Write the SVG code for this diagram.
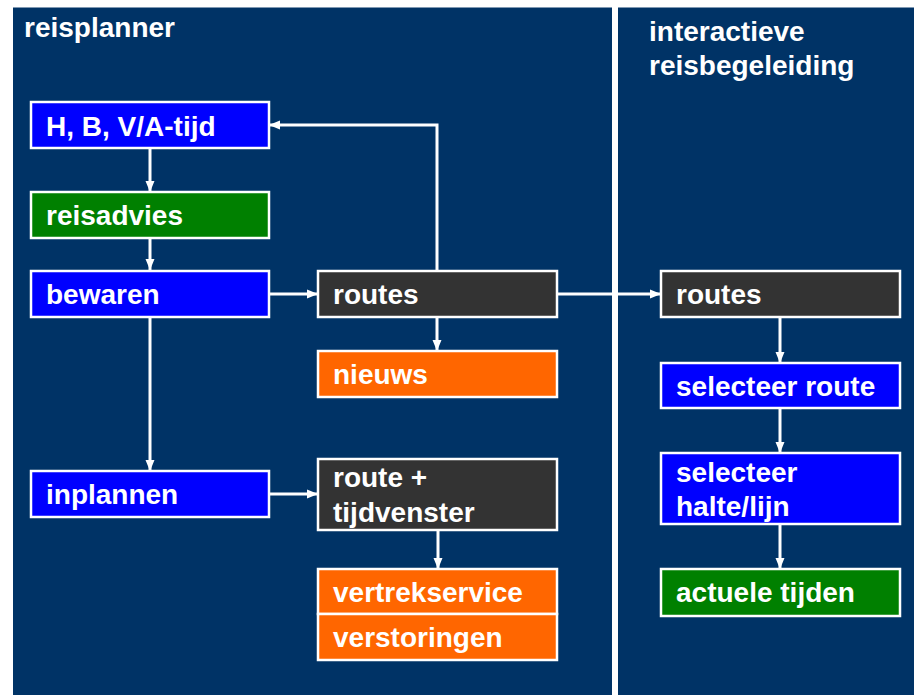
<svg xmlns="http://www.w3.org/2000/svg" width="914" height="695" viewBox="0 0 914 695">
  <style>
    .panel { fill: #003366; }
    .box { stroke: #ffffff; stroke-width: 2.5; }
    .blue { fill: #0000ff; }
    .green { fill: #008000; }
    .orange { fill: #ff6600; }
    .dark { fill: #333333; }
    text { font-family: "Liberation Sans", Arial, sans-serif; font-weight: bold; font-size: 28px; fill: #ffffff; }
    .link { fill: none; stroke: #ffffff; stroke-width: 3; }
  </style>
  <defs>
    <marker id="arrow" markerUnits="userSpaceOnUse" markerWidth="12" markerHeight="12" refX="11" refY="6" orient="auto">
      <path d="M0,1.5 L11,6 L0,10.5 Z" fill="#ffffff"/>
    </marker>
  </defs>

  <rect width="914" height="695" fill="#ffffff"/>

  <!-- two columns -->
  <rect class="panel" x="13" y="7.5" width="599" height="688"/>
  <rect class="panel" x="618" y="7.5" width="296" height="688"/>
  <text x="24" y="37">reisplanner</text>
  <text x="649" y="41">interactieve</text>
  <text x="649" y="75">reisbegeleiding</text>

  <!-- connectors -->
  <g id="connectors">
    <path class="link" d="M150,148 V192" marker-end="url(#arrow)"/>
    <path class="link" d="M150,238 V270" marker-end="url(#arrow)"/>
    <path class="link" d="M150,316 V471" marker-end="url(#arrow)"/>
    <path class="link" d="M269,294 H318" marker-end="url(#arrow)"/>
    <path class="link" d="M437,271 V125 H269" marker-end="url(#arrow)"/>
    <path class="link" d="M437,317 V351" marker-end="url(#arrow)"/>
    <path class="link" d="M557,294 H661" marker-end="url(#arrow)"/>
    <path class="link" d="M269,494 H318" marker-end="url(#arrow)"/>
    <path class="link" d="M438,530 V569" marker-end="url(#arrow)"/>
    <path class="link" d="M780,317 V363" marker-end="url(#arrow)"/>
    <path class="link" d="M780,408 V453" marker-end="url(#arrow)"/>
    <path class="link" d="M780,524 V569" marker-end="url(#arrow)"/>
  </g>

  <!-- reisplanner nodes -->
  <g id="hbva">
    <rect class="box blue" x="31" y="102" width="238" height="46"/>
    <text x="46" y="136">H, B, V/A-tijd</text>
  </g>
  <g id="reisadvies">
    <rect class="box green" x="31" y="192" width="238" height="46"/>
    <text x="46" y="225">reisadvies</text>
  </g>
  <g id="bewaren">
    <rect class="box blue" x="31" y="271" width="238" height="46"/>
    <text x="46" y="304">bewaren</text>
  </g>
  <g id="inplannen">
    <rect class="box blue" x="31" y="471" width="238" height="46"/>
    <text x="46" y="504">inplannen</text>
  </g>
  <g id="routes-left">
    <rect class="box dark" x="318" y="271" width="239" height="46"/>
    <text x="333" y="304">routes</text>
  </g>
  <g id="nieuws">
    <rect class="box orange" x="318" y="351" width="239" height="46"/>
    <text x="333" y="384">nieuws</text>
  </g>
  <g id="route-tijdvenster">
    <rect class="box dark" x="318" y="459" width="239" height="71"/>
    <text x="333" y="487">route +</text>
    <text x="333" y="522">tijdvenster</text>
  </g>
  <g id="vertrekservice">
    <rect class="box orange" x="318" y="569" width="239" height="45"/>
    <text x="333" y="602">vertrekservice</text>
  </g>
  <g id="verstoringen">
    <rect class="box orange" x="318" y="614" width="239" height="46"/>
    <text x="333" y="647">verstoringen</text>
  </g>

  <!-- reisbegeleiding nodes -->
  <g id="routes-right">
    <rect class="box dark" x="661" y="271" width="239" height="46"/>
    <text x="676" y="304">routes</text>
  </g>
  <g id="selecteer-route">
    <rect class="box blue" x="661" y="363" width="239" height="45"/>
    <text x="676" y="396">selecteer route</text>
  </g>
  <g id="selecteer-halte">
    <rect class="box blue" x="661" y="453" width="239" height="71"/>
    <text x="676" y="482">selecteer</text>
    <text x="676" y="516">halte/lijn</text>
  </g>
  <g id="actuele-tijden">
    <rect class="box green" x="661" y="569" width="239" height="47"/>
    <text x="676" y="602">actuele tijden</text>
  </g>
</svg>
